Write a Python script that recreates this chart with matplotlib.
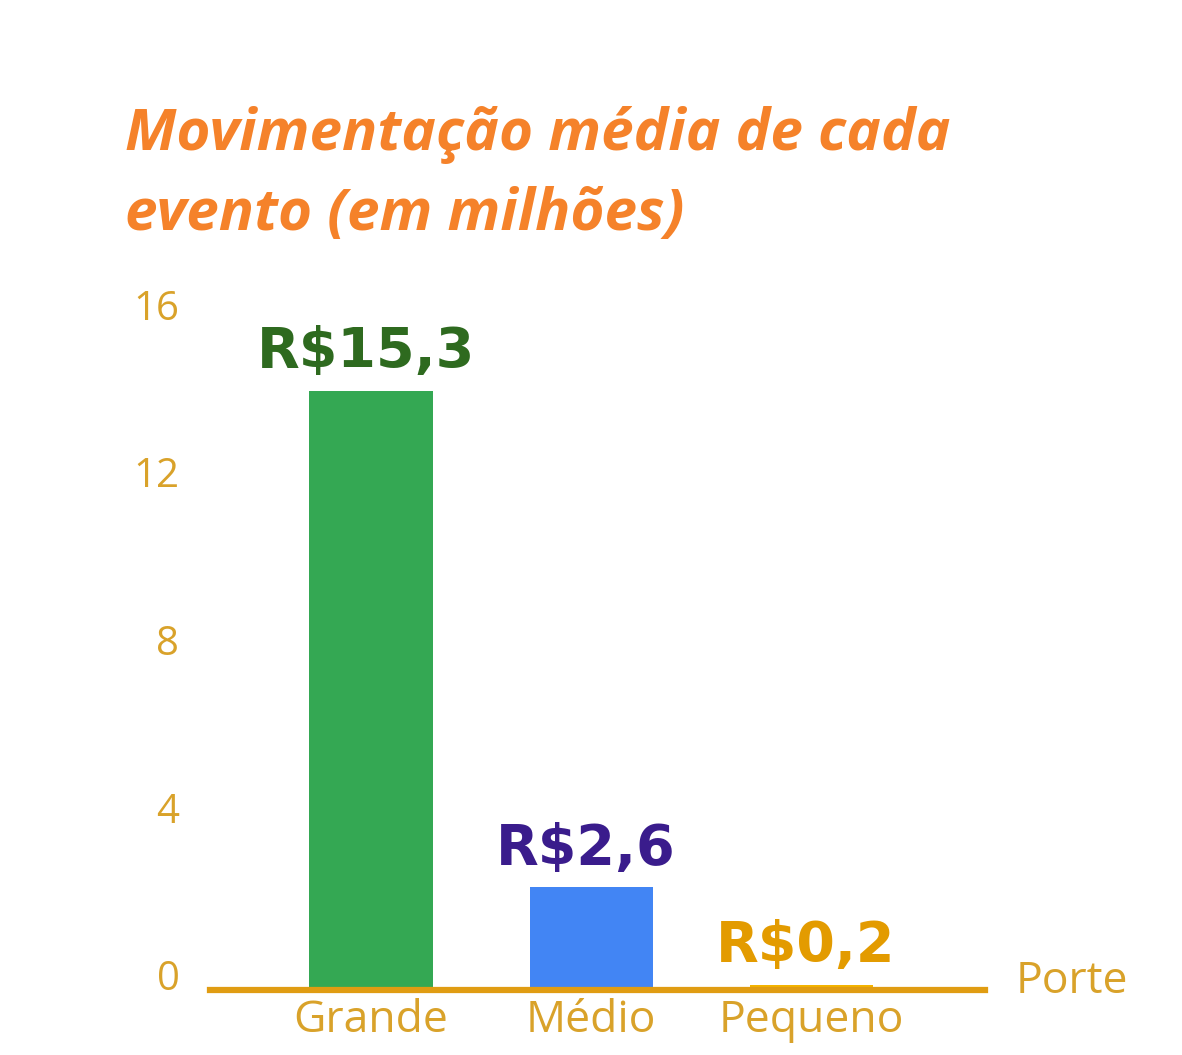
import matplotlib.pyplot as plt
from matplotlib import transforms

portes = ['Grande', 'Médio', 'Pequeno']
alturas = [14.3, 2.45, 0.13]          # altura das barras
rotulos = ['R$15,3', 'R$2,6', 'R$0,2']
ticks_y = [0, 4, 8, 12, 16]

cores_barra = ['#34A853', '#4285F4', '#F4B400']
cores_rotulo = ['#2E6A1F', '#3A1C8C', '#E39B00']
dourado = '#D9A22A'
laranja = '#F5822A'

W, H = 1182, 1055
fig = plt.figure(figsize=(W / 100, H / 100), dpi=100)
ax = fig.add_axes([210 / W, (H - 990) / H, 775 / W, 700 / H])

x = list(range(len(portes)))
ax.bar(x, alturas, width=0.56, color=cores_barra, zorder=2)

for xi, h, txt, c in zip(x, alturas, rotulos, cores_rotulo):
    ax.annotate(txt, (xi, h), xytext=(-4, 8), textcoords='offset points',
                ha='center', va='bottom', fontsize=40, fontweight='bold',
                family='DejaVu Sans', color=c)

ax.set_xlim(-0.732, 2.79)
ax.set_ylim(0, 16.7)

for s in ['top', 'right', 'left']:
    ax.spines[s].set_visible(False)
ax.spines['bottom'].set_color('#E09C12')
ax.spines['bottom'].set_linewidth(4.5)
ax.spines['bottom'].set_zorder(3)

ax.set_yticks(ticks_y)
ax.set_yticklabels([str(t) for t in ticks_y], family='Open Sans', fontsize=29,
                   color=dourado)
ax.tick_params(axis='y', length=0, pad=22)
# rótulos do eixo y ficam um pouco acima da posição exata
desloc = transforms.ScaledTranslation(0, 15 / 100, fig.dpi_scale_trans)
for lab in ax.get_yticklabels():
    lab.set_transform(lab.get_transform() + desloc)

ax.set_xticks(x)
ax.set_xticklabels(portes, family='Open Sans', fontsize=32, color=dourado)
ax.tick_params(axis='x', length=0, pad=6)

ax.text(1.04, 0.012, 'Porte', transform=ax.transAxes, family='Open Sans',
        fontsize=32, color=dourado, ha='left', va='center')

fig.text(125 / W, 1 - 135 / H, 'Movimentação média de cada', family='Open Sans',
         fontsize=42, fontweight='bold', style='italic', color=laranja,
         va='center', ha='left')
fig.text(125 / W, 1 - 215 / H, 'evento (em milhões)', family='Open Sans',
         fontsize=42, fontweight='bold', style='italic', color=laranja,
         va='center', ha='left')

fig.savefig('out.png', dpi=100)
